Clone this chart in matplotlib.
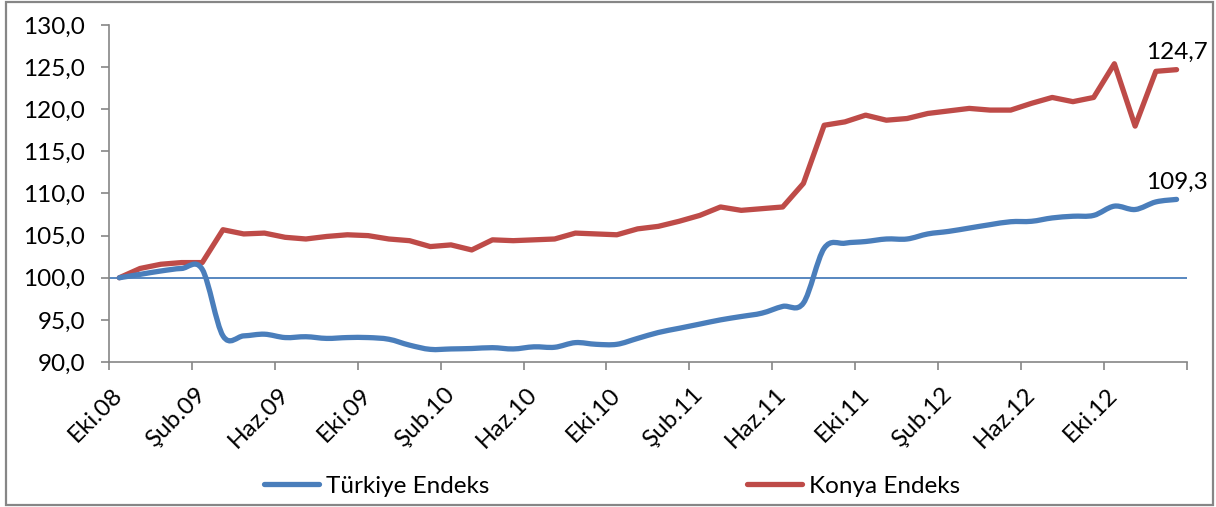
import numpy as np
import matplotlib
matplotlib.use("Agg")
import matplotlib.pyplot as plt
from matplotlib.path import Path
from matplotlib.patches import PathPatch, Rectangle
from matplotlib.lines import Line2D

plt.rcParams["font.family"] = ["Lato", "DejaVu Sans"]

# monthly index, Eki.08 .. Oca.13 (52 months)
turkiye = [100.0, 100.4, 100.8, 101.1, 101.0, 93.1, 93.1, 93.3, 92.9, 93.0,
           92.8, 92.9, 92.9, 92.7, 92.0, 91.5, 91.55, 91.6, 91.7, 91.55,
           91.8, 91.75, 92.3, 92.1, 92.1, 92.8, 93.5, 94.0, 94.5, 95.0,
           95.4, 95.8, 96.6, 97.0, 103.5, 104.1, 104.3, 104.6, 104.6, 105.2,
           105.5, 105.9, 106.3, 106.65, 106.7, 107.1, 107.3, 107.4, 108.5, 108.1,
           109.0, 109.3]
konya = [100.0, 101.1, 101.6, 101.8, 101.8, 105.7, 105.2, 105.3, 104.8, 104.6,
         104.9, 105.1, 105.0, 104.6, 104.4, 103.7, 103.9, 103.3, 104.5, 104.4,
         104.5, 104.6, 105.3, 105.2, 105.1, 105.8, 106.1, 106.7, 107.4, 108.4,
         108.0, 108.2, 108.4, 111.2, 118.1, 118.5, 119.3, 118.7, 118.9, 119.5,
         119.8, 120.1, 119.9, 119.9, 120.7, 121.4, 120.9, 121.4, 125.4, 118.0,
         124.5, 124.7]
tick_labels = ["Eki.08", "Şub.09", "Haz.09", "Eki.09", "Şub.10", "Haz.10", "Eki.10",
               "Şub.11", "Haz.11", "Eki.11", "Şub.12", "Haz.12", "Eki.12"]
series_names = ["Türkiye Endeks", "Konya Endeks"]

BLUE = "#4A7EBB"
RED = "#BE4B48"
GRAY = "#868686"
FS = 17.5


def smooth_path(y):
    # Excel style smoothed line: cubic bezier through each point
    x = np.arange(len(y), dtype=float)
    y = np.asarray(y, dtype=float)
    n = len(y)
    verts = [(x[0], y[0])]
    codes = [Path.MOVETO]
    for i in range(n - 1):
        i0 = max(i - 1, 0)
        i3 = min(i + 2, n - 1)
        c1 = (x[i] + (x[i + 1] - x[i0]) / 6, y[i] + (y[i + 1] - y[i0]) / 6)
        c2 = (x[i + 1] - (x[i3] - x[i]) / 6, y[i + 1] - (y[i3] - y[i]) / 6)
        verts += [c1, c2, (x[i + 1], y[i + 1])]
        codes += [Path.CURVE4] * 3
    return Path(verts, codes)


fig = plt.figure(figsize=(12.16, 5.07), dpi=100)
ax = fig.add_axes([0.0896, 0.286, 0.8865, 0.6647])

ax.axhline(100, color=BLUE, lw=1.3, zorder=1)
ax.add_patch(PathPatch(smooth_path(turkiye), facecolor="none", edgecolor=BLUE,
                       lw=3.8, capstyle="round", joinstyle="round", zorder=3))
ax.plot(range(len(konya)), konya, color=RED, lw=3.8,
        solid_joinstyle="round", solid_capstyle="round", zorder=2)

ax.annotate("124,7", (len(konya) - 1, konya[-1]), xytext=(0, 5),
            textcoords="offset points", ha="center", va="bottom", fontsize=FS)
ax.annotate("109,3", (len(turkiye) - 1, turkiye[-1]), xytext=(0, 5),
            textcoords="offset points", ha="center", va="bottom", fontsize=FS)

ax.set_xlim(-0.5, len(konya) - 0.5)
ax.set_ylim(90, 130)
yt = np.arange(90, 131, 5)
ax.set_yticks(yt)
ax.set_yticklabels([f"{v:.1f}".replace(".", ",") for v in yt], fontsize=FS)

ax.set_xticks(np.arange(0, len(konya), 4))
ax.set_xticklabels(tick_labels, rotation=45, ha="right", va="center",
                   rotation_mode="anchor", fontsize=FS)
ax.set_xticks(np.arange(-0.5, len(konya), 4), minor=True)
ax.tick_params(axis="x", which="major", length=0, pad=21)
ax.tick_params(axis="x", which="minor", length=6, width=1.2, color=GRAY)
ax.tick_params(axis="y", length=6, width=1.2, color=GRAY, pad=11)

for s in ["top", "right"]:
    ax.spines[s].set_visible(False)
for s in ["left", "bottom"]:
    ax.spines[s].set_color(GRAY)
    ax.spines[s].set_linewidth(1.2)

handles = [Line2D([], [], color=BLUE, lw=3.8, solid_capstyle="round"),
           Line2D([], [], color=RED, lw=3.8, solid_capstyle="round")]
fig.legend(handles, series_names, loc="center", bbox_to_anchor=(612 / 1216, 1 - 486 / 507),
           ncol=2, frameon=False, fontsize=FS, handlelength=2.26, handletextpad=0.3,
           columnspacing=10.6)

fig.patches.append(Rectangle((6 / 1216, 2 / 507), 1207 / 1216, 503 / 507,
                             transform=fig.transFigure, fill=False,
                             edgecolor=GRAY, lw=1.6))

fig.savefig("out.png", dpi=100)
